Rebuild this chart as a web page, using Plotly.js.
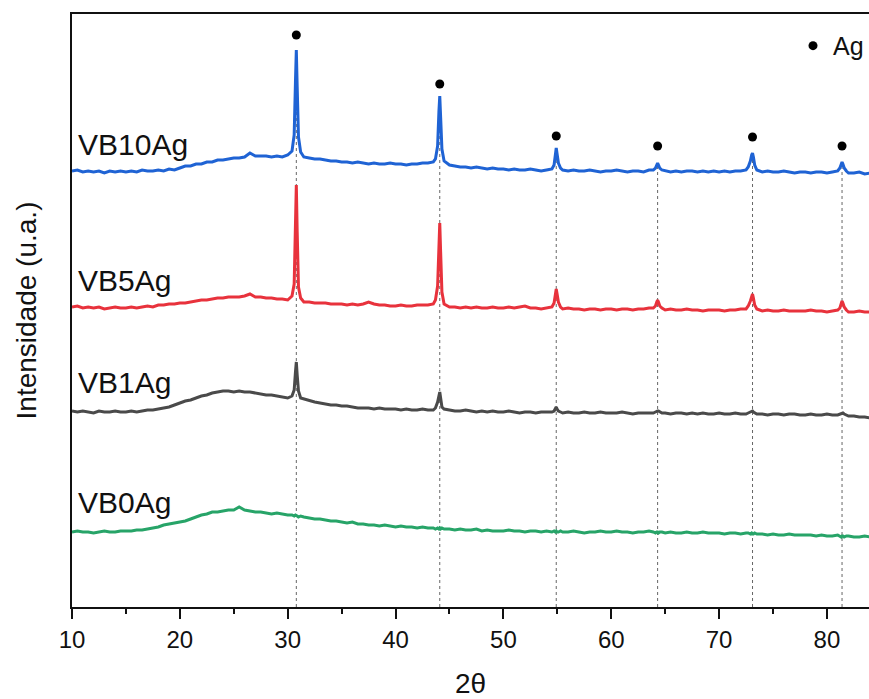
<!DOCTYPE html>
<html>
<head>
<meta charset="utf-8">
<script src="https://cdn.plot.ly/plotly-3.0.1.min.js"></script>
<style>html,body{margin:0;padding:0;background:#fff;}#chart{width:869px;height:699px;}</style>
</head>
<body>
<div id="chart"></div>
<script>
// 2-theta positions (degrees)
const twoTheta = [
  10,10.5,11,11.5,12,12.5,13,13.5,14,14.5,
  15,15.5,16,16.5,17,17.5,18,18.5,19,19.5,
  20,20.5,21,21.5,22,22.5,23,23.5,24,24.5,
  25,25.5,26,26.5,27,27.5,28,28.5,29,29.5,30,
  30.4,30.6,30.72,30.8,30.88,31.0,31.2,
  31.5,32,32.5,33,33.5,34,34.5,35,
  35.5,36,36.5,37,37.5,38,38.5,39,39.5,
  40,40.5,41,41.5,42,42.5,43,43.5,
  43.7,43.9,44.02,44.1,44.18,44.3,
  44.5,45,45.5,46,46.5,47,47.5,48,48.5,49,49.5,
  50,50.5,51,51.5,52,52.5,53,53.5,54,54.5,
  54.7,54.82,54.9,54.98,55.1,55.3,
  55.5,56,56.5,57,57.5,58,58.5,59,59.5,
  60,60.5,61,61.5,62,62.5,63,63.5,
  63.9,64.1,64.22,64.3,64.38,64.5,64.7,
  65,65.5,66,66.5,67,67.5,68,68.5,69,69.5,
  70,70.5,71,71.5,72,72.5,
  72.7,72.9,73.02,73.1,73.18,73.3,
  73.5,74,74.5,75,75.5,76,76.5,77,77.5,
  78,78.5,79,79.5,80,80.5,81,
  81.2,81.32,81.4,81.48,81.6,81.8,
  82,82.5,83,83.5,84
];

// Intensities (a.u., stacked with offsets)
const vb10Ag = [
  436,437,435,436,435,436,434,436,435,436,
  435,436,435,437,436,436,437,436,438,437,
  439,441,441,443,443,445,445,447,447,448,
  449,449,450,454,451,451,451,450,451,450,452,
  456,472,525,557,520,470,455,
  450,449,448,448,447,446,446,445,
  445,444,445,444,443,444,443,443,444,
  443,443,442,443,443,444,444,445,
  448,461,495,511,490,458,
  446,442,441,440,440,439,440,439,438,439,438,
  438,437,438,437,437,438,437,436,437,438,
  442,453,459,453,444,439,
  437,436,437,436,436,437,436,435,436,
  436,437,436,435,436,436,435,437,
  437,439,442,444,442,439,437,
  436,435,436,435,436,436,435,436,435,436,
  435,436,435,436,436,437,
  440,446,452,454,450,442,
  437,435,436,435,435,436,435,434,435,
  435,434,435,435,434,435,436,
  439,443,445,443,439,436,
  434,434,435,433,434
];
const vb5Ag = [
  300,301,299,300,299,300,298,299,300,299,
  299,300,299,300,301,300,302,302,303,303,
  304,304,305,306,307,307,308,309,309,310,
  310,310,311,313,310,310,309,309,308,308,307,
  311,323,380,422,375,320,309,
  305,305,304,304,304,303,303,303,
  302,303,302,303,305,303,302,302,301,
  301,302,301,301,302,302,302,303,
  307,321,360,384,355,315,
  303,300,300,299,300,299,300,299,299,300,299,
  299,300,299,300,301,299,299,298,299,300,
  304,313,318,313,305,300,
  298,299,298,298,297,298,298,297,298,
  298,297,298,298,297,298,298,299,
  299,301,305,307,305,301,299,
  297,298,297,297,298,297,297,296,297,297,
  297,296,297,297,298,298,
  301,306,311,313,309,302,
  298,296,297,296,296,297,296,296,296,
  296,297,296,296,295,296,297,
  299,303,306,304,300,297,
  295,295,296,295,295
];
const vb1Ag = [
  196,195,196,195,194,196,195,195,196,195,
  195,196,195,196,197,197,198,199,200,202,
  204,206,207,209,211,212,214,215,216,216,
  215,216,215,215,214,213,212,212,211,210,209,
  211,217,235,245,232,216,209,
  208,207,205,204,203,202,202,201,
  201,200,199,199,199,198,199,198,198,
  198,197,198,197,197,198,197,197,
  199,205,212,215,209,200,
  198,197,196,196,197,196,195,196,195,196,195,
  195,196,195,194,195,195,194,195,195,195,
  196,198,200,198,196,195,
  194,195,194,194,195,194,194,195,194,
  194,194,195,194,193,194,194,194,
  194,195,196,196,196,195,194,
  194,193,194,194,193,194,193,194,193,193,
  194,193,193,194,193,193,
  194,195,196,196,195,194,
  193,193,192,193,193,192,193,193,192,
  192,193,192,192,193,192,192,
  193,194,194,194,193,192,
  191,191,190,190,189
];
const vb0Ag = [
  75,76,75,75,74,75,76,75,75,76,
  76,76,77,77,78,79,80,82,83,84,
  85,86,88,90,92,93,95,95,96,97,
  97,100,97,96,95,95,94,93,94,93,92,
  92,91,92,91,91,90,91,
  90,89,88,88,87,86,86,85,
  84,85,83,83,82,82,81,82,81,
  80,81,80,80,79,80,79,79,
  78,79,78,79,78,79,
  78,78,77,78,77,77,78,76,77,76,76,
  76,77,76,76,75,76,76,75,76,75,
  76,75,76,75,75,76,
  75,75,76,75,74,75,75,76,75,
  75,76,75,75,74,75,75,76,
  75,74,75,75,74,75,75,
  74,75,74,74,75,74,74,75,74,74,
  74,73,74,74,73,74,
  74,73,74,73,73,74,
  73,73,72,73,72,72,73,72,72,
  72,72,71,72,71,71,72,
  71,70,71,71,70,71,
  71,70,70,71,70
];

// Ag reflections and marker heights
const agPeaks = [30.8, 44.1, 54.9, 64.3, 73.1, 81.4];
const agMarkY = [572, 523, 471, 461, 470, 461];

const seriesNames = ['VB10Ag', 'VB5Ag', 'VB1Ag', 'VB0Ag'];
const seriesData = [vb10Ag, vb5Ag, vb1Ag, vb0Ag];
const seriesColors = ['#1f63d4', '#e8323c', '#4a4a4a', '#27a468'];
const labelY = [463, 327, 225, 105];

const FONT = 'Liberation Sans, Arial, sans-serif';

const traces = seriesData.map((ys, i) => ({
  type: 'scatter', mode: 'lines', x: twoTheta, y: ys, name: seriesNames[i],
  line: {color: seriesColors[i], width: 3}, showlegend: false, hoverinfo: 'skip'
}));
traces.push({
  type: 'scatter', mode: 'markers', x: agPeaks, y: agMarkY, name: 'Ag',
  marker: {color: '#000', size: 9}, showlegend: true
});

const shapes = agPeaks.map(p => {
  const idx = twoTheta.indexOf(p);
  return {
    type: 'line', xref: 'x', yref: 'y', x0: p, x1: p, y0: 0, y1: vb10Ag[idx],
    layer: 'below', line: {color: '#666', width: 1, dash: 'dot'}
  };
});

const annotations = seriesNames.map((n, i) => ({
  text: n, xref: 'x', yref: 'y', x: 10.4, y: labelY[i], xanchor: 'left', yanchor: 'middle',
  showarrow: false, font: {family: FONT, size: 30, color: '#111'}
}));

const layout = {
  width: 869, height: 699,
  margin: {l: 72, r: 0, t: 14, b: 92},
  paper_bgcolor: '#fff', plot_bgcolor: '#fff',
  font: {family: FONT, color: '#111'},
  showlegend: true,
  legend: {x: 1, xanchor: 'right', y: 0.985, yanchor: 'top', bgcolor: 'rgba(0,0,0,0)',
           font: {family: FONT, size: 25, color: '#111'}, itemwidth: 30, borderwidth: 0},
  xaxis: {
    range: [10, 83.9], tick0: 10, dtick: 10, ticks: 'outside', ticklen: 10, tickwidth: 2,
    tickcolor: '#111', showline: true, linecolor: '#111', linewidth: 2, mirror: true,
    showgrid: false, zeroline: false,
    tickfont: {family: FONT, size: 24, color: '#111'},
    minor: {dtick: 5, ticks: 'outside', ticklen: 5, tickwidth: 2, tickcolor: '#111', showgrid: false},
    title: {text: '2θ', font: {family: FONT, size: 28, color: '#111'}, standoff: 30}
  },
  yaxis: {
    range: [0, 593], showticklabels: false, ticks: '', showline: true, linecolor: '#111',
    linewidth: 2, showgrid: false, zeroline: false,
    title: {text: 'Intensidade (u.a.)', font: {family: FONT, size: 28, color: '#111'}, standoff: 25}
  },
  shapes: shapes,
  annotations: annotations
};

Plotly.newPlot('chart', traces, layout, {displayModeBar: false, staticPlot: true});
</script>
</body>
</html>
